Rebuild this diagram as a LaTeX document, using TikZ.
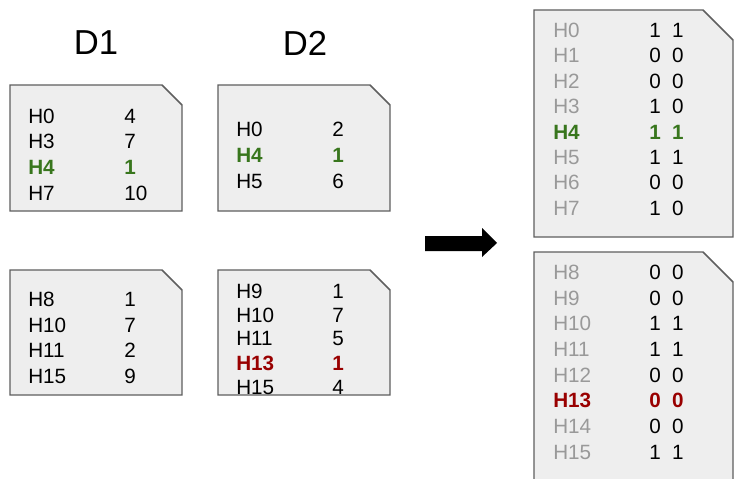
\documentclass[tikz,border=0pt]{standalone}
\usepackage{fontspec}
\setmainfont{Liberation Sans}
\definecolor{boxfill}{HTML}{EEEEEE}
\definecolor{boxline}{HTML}{5F5F5F}
\definecolor{hgreen}{HTML}{38761D}
\definecolor{hred}{HTML}{990000}
\definecolor{hgray}{HTML}{999999}
\tikzset{
  docbox/.style={fill=boxfill,draw=boxline,line width=1.1pt,line join=miter},
  rowtxt/.style={anchor=base west,inner sep=0pt,font=\fontsize{15.5}{18}\selectfont},
  title/.style={anchor=center,inner sep=0pt,font=\fontsize{26}{30}\selectfont},
  grn/.style={text=hgreen,font=\fontsize{15.5}{18}\selectfont\bfseries},
  rd/.style={text=hred,font=\fontsize{15.5}{18}\selectfont\bfseries},
  gry/.style={text=hgray},
  bigarrow/.style={fill=black}
}
\newcommand{\dbox}[5]{\path[docbox] (#1,#2) -- (#3-#5,#2) -- (#3,#2+#5) -- (#3,#4) -- (#1,#4) -- cycle;}
\newcommand{\pr}[2]{#1\hspace{8.6pt}#2}
\begin{document}
\begin{tikzpicture}[x=0.75pt,y=-0.75pt]
\clip (0,0) rectangle (734,478);
\fill[white] (0,0) rectangle (734,478);
% titles
\node[title] (t1) at (96,43) {D1};
\node[title] (t2) at (305,43) {D2};
% boxes
\dbox{10}{85}{182}{211}{20}
\dbox{218}{85}{390}{211}{20}
\dbox{10}{270}{182}{395}{20}
\dbox{218}{270}{390}{395}{20}
\dbox{534}{10}{733}{237}{30}
\dbox{534}{252}{733}{495}{30}
% D1 top
\node[rowtxt] (a1) at (28,123.4) {H0};  \node[rowtxt] (a1v) at (124,123.4) {4};
\node[rowtxt] (a2) at (28,148.7) {H3};    \node[rowtxt] (a2v) at (124,148.7) {7};
\node[rowtxt,grn] (a3) at (28,174.2) {H4}; \node[rowtxt,grn] (a3v) at (124,174.2) {1};
\node[rowtxt] (a4) at (28,200.2) {H7};  \node[rowtxt] (a4v) at (124,200.2) {10};
% D2 top
\node[rowtxt] (b1) at (236,136.4) {H0};  \node[rowtxt] (b1v) at (332,136.4) {2};
\node[rowtxt,grn] (b2) at (236,162.7) {H4}; \node[rowtxt,grn] (b2v) at (332,162.7) {1};
\node[rowtxt] (b3) at (236,188.4) {H5};  \node[rowtxt] (b3v) at (332,188.4) {6};
% D1 bottom
\node[rowtxt] (c1) at (28,306.4) {H8};   \node[rowtxt] (c1v) at (124,306.4) {1};
\node[rowtxt] (c2) at (28,332.2) {H10};  \node[rowtxt] (c2v) at (124,332.2) {7};
\node[rowtxt] (c3) at (28,357.7) {H11};    \node[rowtxt] (c3v) at (124,357.7) {2};
\node[rowtxt] (c4) at (28,383.4) {H15};  \node[rowtxt] (c4v) at (124,383.4) {9};
% D2 bottom
\node[rowtxt] (d1) at (236,298.4) {H9};   \node[rowtxt] (d1v) at (332,298.4) {1};
\node[rowtxt] (d2) at (236,322.2) {H10};  \node[rowtxt] (d2v) at (332,322.2) {7};
\node[rowtxt] (d3) at (236,345.7) {H11};    \node[rowtxt] (d3v) at (332,345.7) {5};
\node[rowtxt,rd] (d4) at (236,370.4) {H13}; \node[rowtxt,rd] (d4v) at (332,370.4) {1};
\node[rowtxt] (d5) at (236,394.2) {H15};  \node[rowtxt] (d5v) at (332,394.2) {4};
% arrow
\path[bigarrow] (425,236) -- (482,236) -- (482,228) -- (497,243) -- (482,257) -- (482,251) -- (425,251) -- cycle;
% right top
\node[rowtxt,gry] (e0) at (553,37.4) {H0}; \node[rowtxt] (e0v) at (649,37.4) {\pr11};
\node[rowtxt,gry] (e1) at (553,62.8) {H1}; \node[rowtxt] (e1v) at (649,62.8) {\pr00};
\node[rowtxt,gry] (e2) at (553,88.2) {H2}; \node[rowtxt] (e2v) at (649,88.2) {\pr00};
\node[rowtxt,gry] (e3) at (553,113.6) {H3}; \node[rowtxt] (e3v) at (649,113.6) {\pr10};
\node[rowtxt,grn] (e4) at (553,139) {H4}; \node[rowtxt,grn] (e4v) at (649,139) {\pr11};
\node[rowtxt,gry] (e5) at (553,164.4) {H5}; \node[rowtxt] (e5v) at (649,164.4) {\pr11};
\node[rowtxt,gry] (e6) at (553,189.8) {H6}; \node[rowtxt] (e6v) at (649,189.8) {\pr00};
\node[rowtxt,gry] (e7) at (553,215.2) {H7}; \node[rowtxt] (e7v) at (649,215.2) {\pr10};
% right bottom
\node[rowtxt,gry] (f0) at (553,279.4) {H8}; \node[rowtxt] (f0v) at (649,279.4) {\pr00};
\node[rowtxt,gry] (f1) at (553,305.1) {H9}; \node[rowtxt] (f1v) at (649,305.1) {\pr00};
\node[rowtxt,gry] (f2) at (553,330.8) {H10}; \node[rowtxt] (f2v) at (649,330.8) {\pr11};
\node[rowtxt,gry] (f3) at (553,356.5) {H11}; \node[rowtxt] (f3v) at (649,356.5) {\pr11};
\node[rowtxt,gry] (f4) at (553,382.2) {H12}; \node[rowtxt] (f4v) at (649,382.2) {\pr00};
\node[rowtxt,rd] (f5) at (553,407.9) {H13}; \node[rowtxt,rd] (f5v) at (649,407.9) {\pr00};
\node[rowtxt,gry] (f6) at (553,433.6) {H14}; \node[rowtxt] (f6v) at (649,433.6) {\pr00};
\node[rowtxt,gry] (f7) at (553,459.3) {H15}; \node[rowtxt] (f7v) at (649,459.3) {\pr11};
\end{tikzpicture}
\end{document}
